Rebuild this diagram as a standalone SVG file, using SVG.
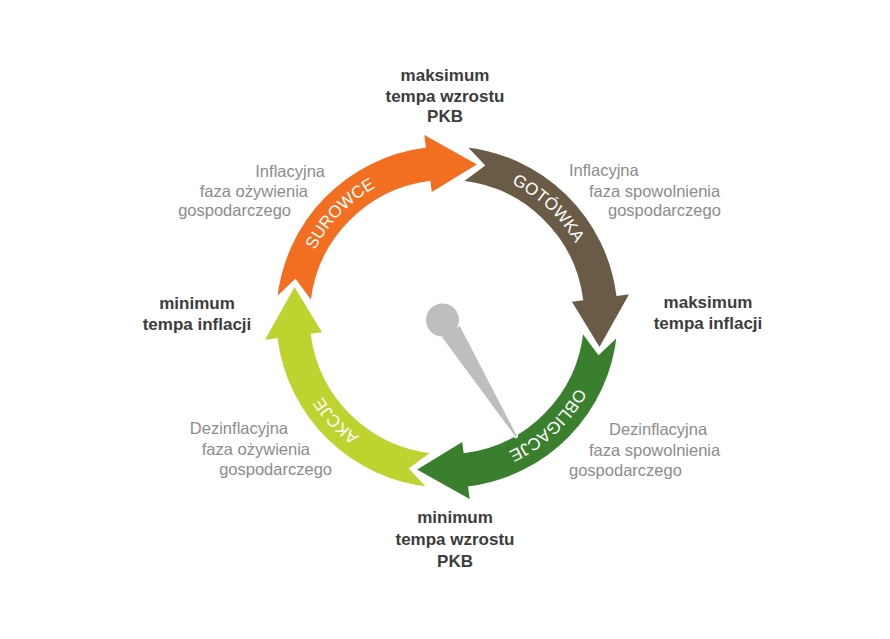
<svg xmlns="http://www.w3.org/2000/svg" width="890" height="639" viewBox="0 0 890 639">
<style>
.bold{font-family:"Liberation Sans",Arial,sans-serif;font-weight:bold;font-size:17px;fill:#3c3c3c;text-anchor:middle}
.gray{font-family:"Liberation Sans",Arial,sans-serif;font-size:16.5px;fill:#8c8c8c}
.end{text-anchor:end}
.lbl{font-family:"Liberation Sans",Arial,sans-serif;font-size:17px;fill:#ffffff;text-anchor:middle}
.arr{stroke:#ffffff;stroke-width:2.5;stroke-linejoin:miter}
</style>
<defs>
<path id="arrowShape" d="M275.94,299.02 A172,172 0 0 1 424.55,146.47 L422.72,132.59 L479.43,164.41 L430.81,194.06 L429.25,182.16 A136,136 0 0 0 311.75,302.78 L295.31,280.58 Z"/>
<path id="pS" d="M304.73,357.79 A148,148 0 0 1 482.80,173.40"/>
<path id="pG" d="M403.73,175.47 A148,148 0 0 1 591.21,350.29"/>
<path id="pO" d="M591.21,283.71 A148,148 0 0 1 403.73,458.53"/>
<path id="pA" d="M480.29,461.21 A148,148 0 0 1 305.47,273.73"/>
</defs>
<rect width="890" height="639" fill="#ffffff"/>
<g id="connectors">
<g id="arrow-surowce">
<use href="#arrowShape" class="arr" fill="#f26f21"/>
<text class="lbl"><textPath href="#pS" startOffset="50%">SUROWCE</textPath></text>
</g>
<g id="arrow-gotowka">
<use href="#arrowShape" class="arr" fill="#6a5b47" transform="rotate(90 447 317)"/>
<text class="lbl"><textPath href="#pG" startOffset="50%">GOTÓWKA</textPath></text>
</g>
<g id="arrow-obligacje">
<use href="#arrowShape" class="arr" fill="#3a7f2d" transform="rotate(180 447 317)"/>
<text class="lbl"><textPath href="#pO" startOffset="50%">OBLIGACJE</textPath></text>
</g>
<g id="arrow-akcje">
<use href="#arrowShape" class="arr" fill="#bed330" transform="rotate(270 447 317)"/>
<text class="lbl"><textPath href="#pA" startOffset="50%">AKCJE</textPath></text>
</g>
</g>
<g id="needle">
<path d="M441,337 L514,436 Q516.5,439.5 517.5,435.5 L460,325 Z" fill="#bebec1" stroke="#ffffff" stroke-width="1.5"/>
<circle cx="442.5" cy="320" r="16.5" fill="#bebec1"/>
</g>
<g id="label-top">
<text class="bold" x="445" y="81">maksimum</text>
<text class="bold" x="445" y="101.5">tempa wzrostu</text>
<text class="bold" x="445" y="122">PKB</text>
</g>
<g id="label-left">
<text class="bold" x="197" y="309">minimum</text>
<text class="bold" x="197" y="330">tempa inflacji</text>
</g>
<g id="label-right">
<text class="bold" x="708" y="308">maksimum</text>
<text class="bold" x="708" y="329">tempa inflacji</text>
</g>
<g id="label-bottom">
<text class="bold" x="455" y="523">minimum</text>
<text class="bold" x="455" y="545">tempa wzrostu</text>
<text class="bold" x="455" y="567">PKB</text>
</g>
<g id="phase-top-left">
<text class="gray end" x="325" y="177">Inflacyjna</text>
<text class="gray end" x="308" y="197">faza ożywienia</text>
<text class="gray end" x="291" y="216">gospodarczego</text>
</g>
<g id="phase-top-right">
<text class="gray" x="569" y="176">Inflacyjna</text>
<text class="gray" x="589" y="197">faza spowolnienia</text>
<text class="gray" x="608" y="216">gospodarczego</text>
</g>
<g id="phase-bottom-left">
<text class="gray end" x="288" y="434">Dezinflacyjna</text>
<text class="gray end" x="310" y="455">faza ożywienia</text>
<text class="gray end" x="332" y="475">gospodarczego</text>
</g>
<g id="phase-bottom-right">
<text class="gray" x="609" y="435">Dezinflacyjna</text>
<text class="gray" x="589" y="456">faza spowolnienia</text>
<text class="gray" x="569" y="476">gospodarczego</text>
</g>
</svg>
